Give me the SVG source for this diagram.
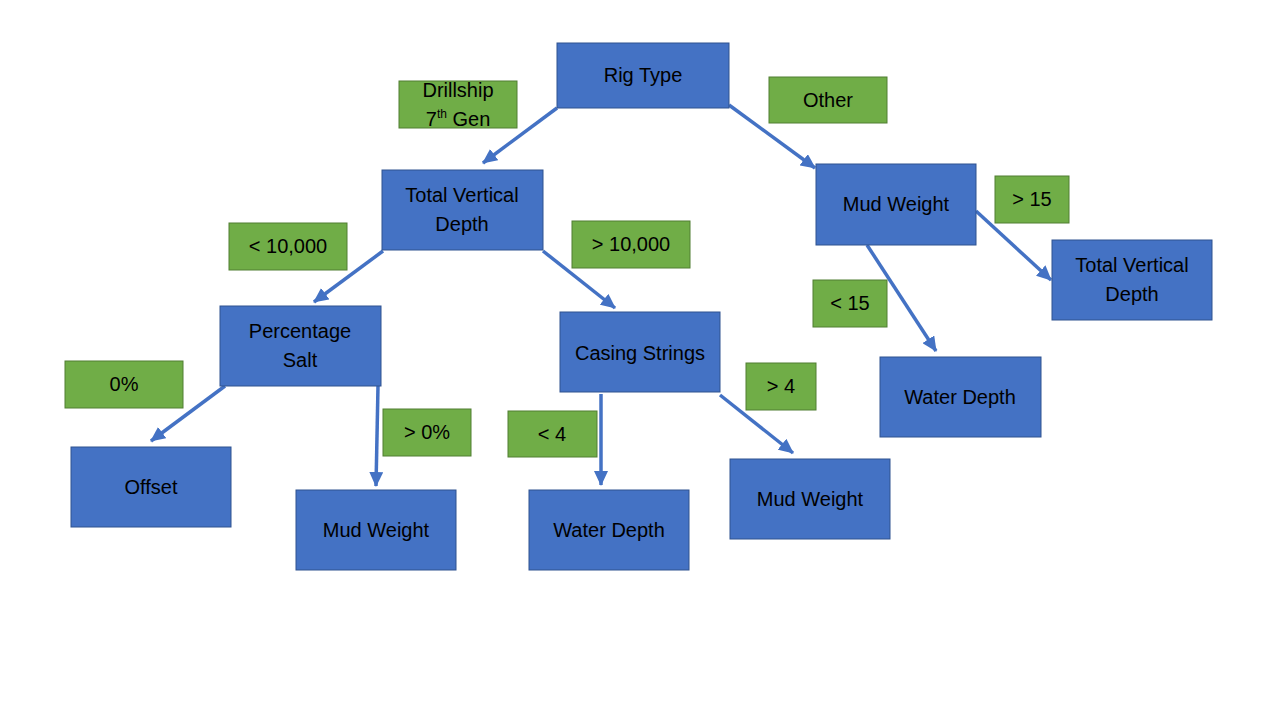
<svg xmlns="http://www.w3.org/2000/svg" width="1280" height="720" viewBox="0 0 1280 720">
<defs>
<style>
.node{fill:#4472C4;stroke:#2F528F;stroke-width:1}
.lab{fill:#70AD47;stroke:#507E32;stroke-width:1}
text{font-family:"Liberation Sans",Arial,sans-serif;font-size:20px;fill:#000;text-anchor:middle}
.edge{stroke:#4472C4;stroke-width:3.5;fill:none;marker-end:url(#ah)}
</style>
<marker id="ah" markerUnits="userSpaceOnUse" markerWidth="16" markerHeight="14" refX="14" refY="7" orient="auto">
<path d="M0,0 L15,7 L0,14 Z" fill="#4472C4"/>
</marker>
</defs>
<rect width="1280" height="720" fill="#fff"/>
<g id="connectors">
<line class="edge" x1="557" y1="108" x2="483" y2="163"/>
<line class="edge" x1="729" y1="105" x2="815" y2="168"/>
<line class="edge" x1="383" y1="251" x2="314" y2="302"/>
<line class="edge" x1="543" y1="251" x2="615" y2="308"/>
<line class="edge" x1="867" y1="245" x2="936" y2="351"/>
<line class="edge" x1="976" y1="211" x2="1051" y2="280"/>
<line class="edge" x1="225" y1="386" x2="151" y2="441"/>
<line class="edge" x1="378" y1="386" x2="376" y2="486"/>
<line class="edge" x1="601" y1="394" x2="601" y2="485"/>
<line class="edge" x1="720" y1="395" x2="793" y2="453"/>
</g>
<g id="rig-type"><rect class="node" x="557" y="43" width="172" height="65"/><text x="643" y="82">Rig Type</text></g>
<g id="label-drillship"><rect class="lab" x="399" y="81" width="118" height="47"/><text x="458" y="97">Drillship</text><text x="458" y="126">7<tspan font-size="12" dy="-8">th</tspan><tspan dy="8"> Gen</tspan></text></g>
<g id="label-other"><rect class="lab" x="769" y="77" width="118" height="46"/><text x="828" y="107">Other</text></g>
<g id="tvd-mid"><rect class="node" x="382" y="170" width="161" height="80"/><text x="462" y="202">Total Vertical</text><text x="462" y="231">Depth</text></g>
<g id="mud-weight-right"><rect class="node" x="816" y="164" width="160" height="81"/><text x="896" y="211">Mud Weight</text></g>
<g id="label-gt15"><rect class="lab" x="995" y="176" width="74" height="47"/><text x="1032" y="206">&gt; 15</text></g>
<g id="tvd-right"><rect class="node" x="1052" y="240" width="160" height="80"/><text x="1132" y="272">Total Vertical</text><text x="1132" y="301">Depth</text></g>
<g id="label-lt10000"><rect class="lab" x="229" y="223" width="118" height="47"/><text x="288" y="253">&lt; 10,000</text></g>
<g id="label-gt10000"><rect class="lab" x="572" y="221" width="118" height="47"/><text x="631" y="251">&gt; 10,000</text></g>
<g id="percentage-salt"><rect class="node" x="220" y="306" width="161" height="80"/><text x="300" y="338">Percentage</text><text x="300" y="367">Salt</text></g>
<g id="casing-strings"><rect class="node" x="560" y="312" width="160" height="80"/><text x="640" y="360">Casing Strings</text></g>
<g id="label-lt15"><rect class="lab" x="813" y="280" width="74" height="47"/><text x="850" y="310">&lt; 15</text></g>
<g id="water-depth-right"><rect class="node" x="880" y="357" width="161" height="80"/><text x="960" y="404">Water Depth</text></g>
<g id="label-0pct"><rect class="lab" x="65" y="361" width="118" height="47"/><text x="124" y="391">0%</text></g>
<g id="label-gt0pct"><rect class="lab" x="383" y="409" width="88" height="47"/><text x="427" y="439">&gt; 0%</text></g>
<g id="label-lt4"><rect class="lab" x="508" y="411" width="89" height="46"/><text x="552" y="441">&lt; 4</text></g>
<g id="label-gt4"><rect class="lab" x="746" y="363" width="70" height="47"/><text x="781" y="393">&gt; 4</text></g>
<g id="offset"><rect class="node" x="71" y="447" width="160" height="80"/><text x="151" y="494">Offset</text></g>
<g id="mud-weight-left"><rect class="node" x="296" y="490" width="160" height="80"/><text x="376" y="537">Mud Weight</text></g>
<g id="water-depth-bottom"><rect class="node" x="529" y="490" width="160" height="80"/><text x="609" y="537">Water Depth</text></g>
<g id="mud-weight-bottom-right"><rect class="node" x="730" y="459" width="160" height="80"/><text x="810" y="506">Mud Weight</text></g>
</svg>
